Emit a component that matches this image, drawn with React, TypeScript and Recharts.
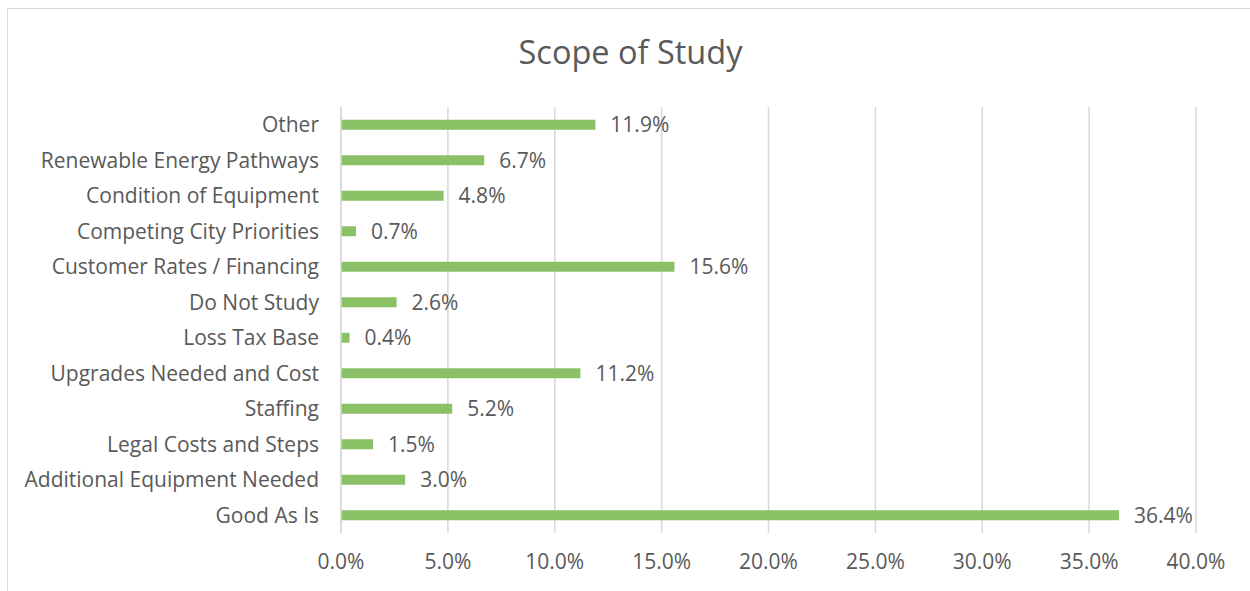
import React from 'react';
import { BarChart, Bar, XAxis, YAxis, CartesianGrid, LabelList } from 'recharts';

const categories = [
  'Other',
  'Renewable Energy Pathways',
  'Condition of Equipment',
  'Competing City Priorities',
  'Customer Rates / Financing',
  'Do Not Study',
  'Loss Tax Base',
  'Upgrades Needed and Cost',
  'Staffing',
  'Legal Costs and Steps',
  'Additional Equipment Needed',
  'Good As Is',
];
const values = [11.9, 6.7, 4.8, 0.7, 15.6, 2.6, 0.4, 11.2, 5.2, 1.5, 3.0, 36.4];
const xTicks = [0, 5, 10, 15, 20, 25, 30, 35, 40];

const data = categories.map((c, i) => ({ name: c, value: values[i] }));

const FONT = '"Open Sans", Lato, sans-serif';
const TEXT = '#595959';
const FS = 21;

export default function App() {
  return (
    <div style={{ position: 'absolute', left: 0, top: 0, width: 1250, height: 591, background: '#fff', fontFamily: FONT, overflow: 'hidden' }}>
      <div style={{ position: 'absolute', left: 7, top: 8, width: 1300, height: 700, border: '1px solid #d9d9d9', boxSizing: 'border-box' }} />
      <div style={{ position: 'absolute', left: 0, top: 30, width: 1261, textAlign: 'center', fontSize: 32.5, color: TEXT, lineHeight: '44px' }}>
        Scope of Study
      </div>
      <div style={{ position: 'absolute', left: 0, top: 0 }}>
        <BarChart
          width={1250}
          height={591}
          data={data}
          layout="vertical"
          margin={{ top: 107, right: 54, bottom: 18, left: 11 }}
          barCategoryGap="64%"
        >
          <CartesianGrid horizontal={false} vertical={true} stroke="#d9d9d9" strokeWidth={1.5} />
          <XAxis
            type="number"
            domain={[0, 40]}
            ticks={xTicks}
            tickFormatter={(v: number) => v.toFixed(1) + '%'}
            axisLine={false}
            tickLine={false}
            tickSize={0}
            tickMargin={21}
            height={40}
            tick={{ fill: TEXT, fontSize: FS, fontFamily: FONT }}
            interval={0}
          />
          <YAxis
            type="category"
            dataKey="name"
            width={330}
            axisLine={{ stroke: '#d9d9d9', strokeWidth: 1.5 }}
            tickLine={false}
            tickSize={0}
            tickMargin={22}
            tick={{ fill: TEXT, fontSize: FS, fontFamily: FONT }}
            interval={0}
          />
          <Bar dataKey="value" fill="#8bc166" isAnimationActive={false}>
            <LabelList
              dataKey="value"
              position="right"
              offset={15}
              formatter={(v: number) => v.toFixed(1) + '%'}
              style={{ fill: TEXT, fontSize: FS, fontFamily: FONT }}
            />
          </Bar>
        </BarChart>
      </div>
    </div>
  );
}
